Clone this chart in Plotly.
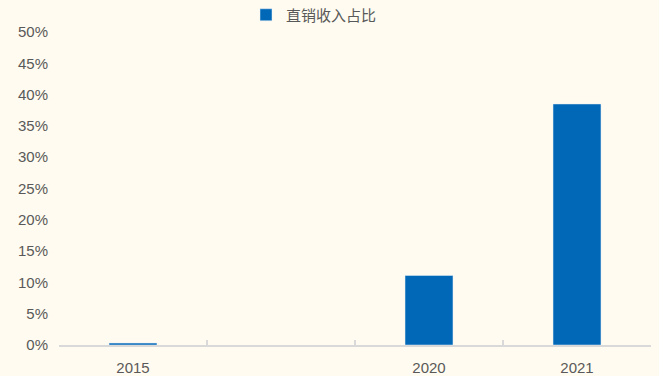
import plotly.graph_objects as go

categories = ["2015", " ", "2020", "2021"]
values = [0.3, None, 11.1, 38.5]
series_name = "直销收入占比"
y_ticks = [0, 5, 10, 15, 20, 25, 30, 35, 40, 45, 50]
y_ticklabels = [f"{v}%" for v in y_ticks]

fig = go.Figure()
fig.add_trace(go.Bar(x=categories, y=values, name=series_name,
                     marker_color="#0068B7", width=0.324, showlegend=True))

font = "Liberation Sans, Arial, Noto Sans CJK SC, sans-serif"
fig.update_layout(
    width=659, height=376,
    margin=dict(l=59, r=8, t=32, b=31, autoexpand=False),
    paper_bgcolor="#FFFBF0", plot_bgcolor="#FFFBF0",
    font=dict(family=font, size=15, color="#595959"),
    showlegend=True,
    legend=dict(orientation="h", x=246 / 659, xref="container", xanchor="left",
                y=1 - 15 / 376, yref="container", yanchor="middle",
                font=dict(size=15, color="#595959"), itemwidth=30,
                bgcolor="rgba(0,0,0,0)"),
)
fig.update_xaxes(type="category", range=[-0.5, 3.5], showline=True, linecolor="#D9D9D9",
                 linewidth=2, ticks="inside", tickson="boundaries", ticklen=5,
                 tickwidth=1.5, tickcolor="#D9D9D9", showgrid=False, automargin=False,
                 ticklabelstandoff=8, tickfont=dict(size=15, color="#595959"))
fig.update_yaxes(range=[0, 50], tickvals=y_ticks, ticktext=y_ticklabels, showgrid=False,
                 zeroline=False, showline=False, ticks="", automargin=False,
                 ticklabelstandoff=10, tickfont=dict(size=15, color="#595959"))
fig.write_html("out.html", config={"displayModeBar": False},
               post_script="document.body.style.margin='0';document.body.style.background='#FFFBF0';")
